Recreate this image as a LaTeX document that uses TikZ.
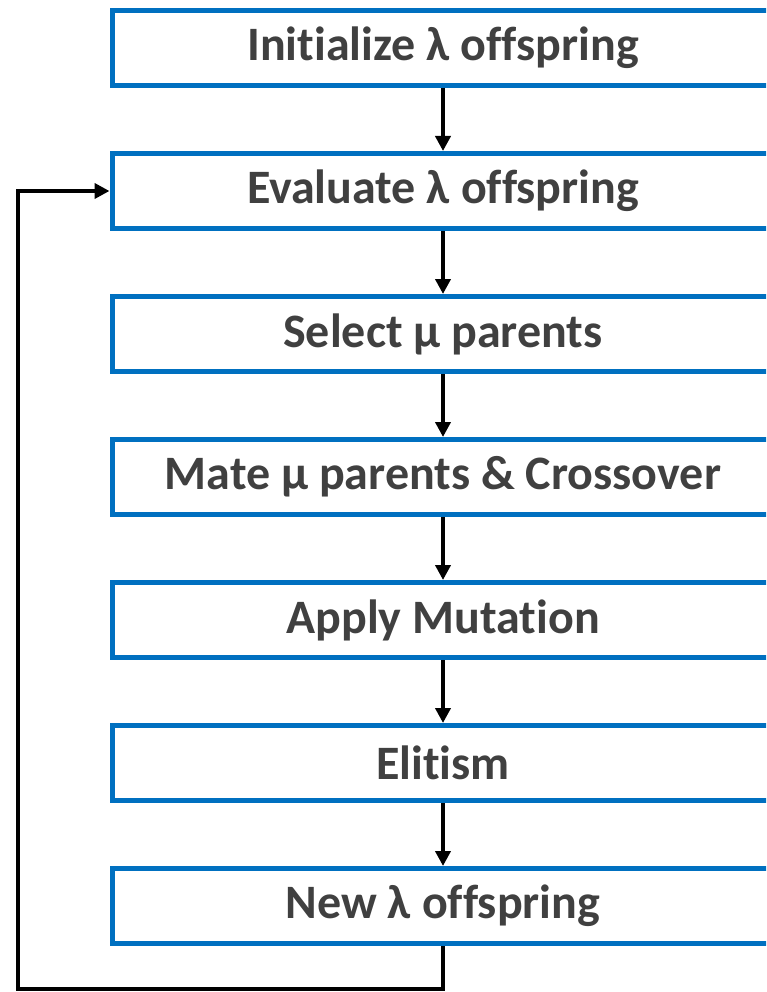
\documentclass[tikz,border=0pt]{standalone}
\usepackage{fontspec}
\setmainfont{Carlito}[Ligatures=NoCommon]
\usetikzlibrary{arrows.meta,positioning}
\definecolor{boxblue}{HTML}{0070C0}
\definecolor{textgray}{HTML}{404040}
\tikzset{
  stepbox/.style={draw=boxblue,line width=5pt,minimum width=662pt,minimum height=75pt,inner sep=0pt,
    text=textgray,font=\fontsize{48}{56}\selectfont\bfseries},
  flow/.style={line width=4.5pt,-{Triangle[length=15pt,width=15pt]}}
}

\begin{document}
\begin{tikzpicture}[x=1pt,y=-1pt,node distance=63pt]
  \useasboundingbox (0,0) rectangle (766,992);
  \clip (0,0) rectangle (766,992);
  \node[stepbox] (init) at (443,48) {Initialize λ offspring};
  \node[stepbox,below=of init] (eval) {Evaluate λ offspring};
  \node[stepbox,below=of eval] (select) {Select μ parents};
  \node[stepbox,below=of select] (mate) {Mate μ parents \& Crossover};
  \node[stepbox,below=of mate] (mutate) {Apply Mutation};
  \node[stepbox,below=of mutate] (elite) {Elitism};
  \node[stepbox,below=of elite] (new) {New λ offspring};
  \coordinate (corner) at (18,989);
  \draw[flow] (init) -- (eval);
  \draw[flow] (eval) -- (select);
  \draw[flow] (select) -- (mate);
  \draw[flow] (mate) -- (mutate);
  \draw[flow] (mutate) -- (elite);
  \draw[flow] (elite) -- (new);
  \draw[flow] (new.south) |- (corner) |- (eval.west);
\end{tikzpicture}
\end{document}
